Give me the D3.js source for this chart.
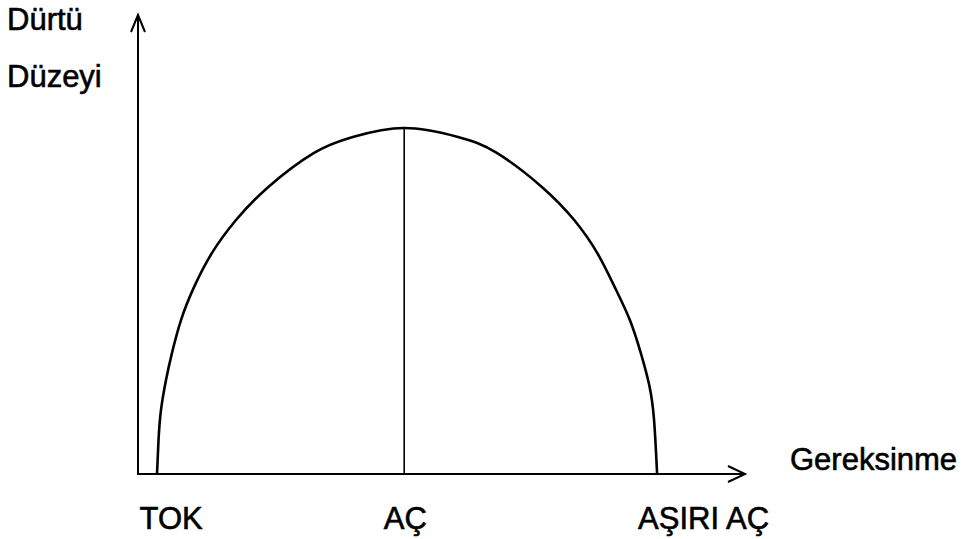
<!DOCTYPE html>
<html>
<head>
<meta charset="utf-8">
<script src="https://cdn.jsdelivr.net/npm/d3@7"></script>
<style>
  html, body { margin: 0; padding: 0; background: #fff; }
  svg { display: block; }
  text { font-family: "Liberation Sans", Arial, sans-serif; fill: #000; }
</style>
</head>
<body>
<svg id="chart" width="963" height="539"></svg>
<script>
// ---- data ----
const need = [3.14, 3.39, 3.80, 4.63, 5.62, 7.11, 9.26, 12.23, 16.2, 21.5, 29.1, 35.5, 44.0,
              52.9, 59.3, 66.8, 72.1, 75.9, 78.8, 81.3, 83.1, 84.5, 85.3, 85.8];
const drive = [0, 9.8, 18.5, 27.2, 35.0, 44.5, 54.0, 63.9, 73.4, 82.9, 92.8, 97.4, 100,
               97.4, 92.8, 82.9, 73.4, 63.9, 54.0, 44.5, 35.0, 25.7, 15.6, 0];
const peakNeed = 44;
const tickValues = [5.4, 44.1, 93.4];
const tickLabels = ["TOK", "AÇ", "AŞIRI AÇ"];
const yTitleLines = ["Dürtü", "Düzeyi"];
const xTitle = "Gereksinme";

// ---- layout ----
const svg = d3.select("#chart");
const x = d3.scaleLinear().domain([0, 100]).range([138, 743]);
const y = d3.scaleLinear().domain([0, 100]).range([474, 128]);

// axes lines with arrowheads
const axisG = svg.append("g").attr("stroke", "#000").attr("fill", "none").attr("stroke-width", 2);
const x0 = x(0), y0 = y(0);
const yTop = 15, xEnd = 745;
axisG.append("line").attr("x1", x0).attr("y1", y0).attr("x2", x0).attr("y2", yTop);
axisG.append("path").attr("d", `M${x0-7},${yTop+17} L${x0},${yTop} L${x0+7},${yTop+17}`);
axisG.append("line").attr("x1", x0 - 1).attr("y1", y0).attr("x2", xEnd).attr("y2", y0);
axisG.append("path").attr("d", `M${xEnd-17},${y0-8} L${xEnd},${y0} L${xEnd-17},${y0+8}`);

// curve
const pts = need.map((n, i) => [n, drive[i]]);
const line = d3.line().x(d => x(d[0])).y(d => y(d[1])).curve(d3.curveNatural);
svg.append("path").datum(pts).attr("d", line)
  .attr("fill", "none").attr("stroke", "#000").attr("stroke-width", 2.6);

// vertical line at peak
svg.append("line")
  .attr("x1", x(peakNeed)).attr("x2", x(peakNeed))
  .attr("y1", y(0)).attr("y2", y(100))
  .attr("stroke", "#000").attr("stroke-width", 1.6);

// x tick labels through axis
const xAxis = d3.axisBottom(x).tickValues(tickValues)
  .tickFormat((d, i) => tickLabels[i]).tickSize(0).tickPadding(0);
const gx = svg.append("g").attr("transform", `translate(0,${y0 + 33})`).call(xAxis);
gx.select(".domain").remove();
gx.selectAll("text").attr("font-size", 31).attr("dy", "0.71em")
  .attr("font-family", "Liberation Sans, Arial, sans-serif")
  .attr("fill", "#000").attr("stroke", "#000").attr("stroke-width", 0.6);

// axis titles
svg.selectAll(".ytitle").data(yTitleLines).enter().append("text")
  .attr("class", "ytitle")
  .attr("x", 7).attr("y", (d, i) => 30 + i * 57)
  .attr("font-size", 31).attr("stroke", "#000").attr("stroke-width", 0.6)
  .text(d => d);

svg.append("text").attr("x", 790).attr("y", 470)
  .attr("font-size", 31).attr("stroke", "#000").attr("stroke-width", 0.6)
  .text(xTitle);
</script>
</body>
</html>
